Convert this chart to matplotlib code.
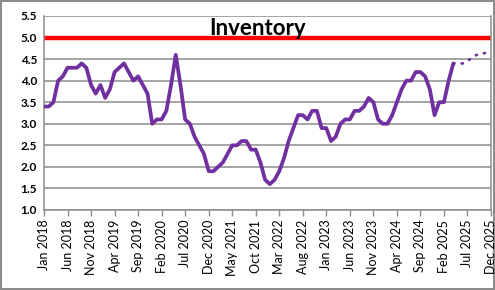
import matplotlib
matplotlib.use('Agg')
import matplotlib.pyplot as plt
import pandas as pd

# monthly inventory, Jan 2018 - Apr 2025
inventory = [3.4, 3.4, 3.5, 4.0, 4.1, 4.3, 4.3, 4.3, 4.4, 4.3, 3.9, 3.7,
             3.9, 3.6, 3.8, 4.2, 4.3, 4.4, 4.2, 4.0, 4.1, 3.9, 3.7, 3.0,
             3.1, 3.1, 3.3, 3.9, 4.6, 3.9, 3.1, 3.0, 2.7, 2.5, 2.3, 1.9,
             1.9, 2.0, 2.1, 2.3, 2.5, 2.5, 2.6, 2.6, 2.4, 2.4, 2.1, 1.7,
             1.6, 1.7, 1.9, 2.2, 2.6, 2.9, 3.2, 3.2, 3.1, 3.3, 3.3, 2.9,
             2.9, 2.6, 2.7, 3.0, 3.1, 3.1, 3.3, 3.3, 3.4, 3.6, 3.5, 3.1,
             3.0, 3.0, 3.2, 3.5, 3.8, 4.0, 4.0, 4.2, 4.2, 4.1, 3.8, 3.2,
             3.5, 3.5, 4.0, 4.4]
# dotted projection, Apr 2025 - Dec 2025
forecast = [4.4, 4.4, 4.4, 4.45, 4.55, 4.6, 4.62, 4.65, 4.72]
target = 5.0

months = pd.date_range('2018-01-01', '2025-12-01', freq='MS')
labels = [m.strftime('%b %Y') for m in months]

x_act = list(range(len(inventory)))
x_fc = list(range(len(inventory) - 1, len(inventory) - 1 + len(forecast)))

fig = plt.figure(figsize=(4.95, 2.9), dpi=100, edgecolor='#8c8c8c', linewidth=1.5)
ax = fig.add_axes([44/495, 1 - 210/290, (491 - 44)/495, (210 - 16)/290])

ax.set_ylim(1.0, 5.5)
ax.set_xlim(0, len(months) - 1)
ax.set_yticks([1.0 + 0.5*k for k in range(10)])
ax.set_yticklabels(['%.1f' % (1.0 + 0.5*k) for k in range(10)],
                   fontweight='bold', fontsize=8.5, family='Lato')
ax.yaxis.grid(True, color='#8c8c8c', linewidth=1.1)
ax.set_axisbelow(True)
ax.tick_params(axis='y', length=0, pad=5)

ax.set_xticks(range(0, len(months), 5))
ax.set_xticklabels(labels[::5], rotation=90, fontsize=9, family='Lato')
ax.tick_params(axis='x', length=4, color='#8c8c8c', width=1, pad=3)

ax.spines['top'].set_visible(False)
for s in ['left', 'bottom', 'right']:
    ax.spines[s].set_color('#8c8c8c')
    ax.spines[s].set_linewidth(1.1)

ax.axhline(target, color='#ff0000', linewidth=3.2, zorder=2)
ax.plot(x_act, inventory, color='#7030a0', linewidth=2.7,
        solid_joinstyle='round', solid_capstyle='round', zorder=3)
ax.plot(x_fc, forecast, color='#7030a0', linewidth=2.0,
        linestyle=(0, (0.4, 2.6)), dash_capstyle='round', zorder=3)

ax.text(0.478, 0.935, 'Inventory', transform=ax.transAxes, ha='center', va='center',
        fontsize=16, fontweight='bold', family='Lato', zorder=4)

fig.savefig('out.png', dpi=100)
